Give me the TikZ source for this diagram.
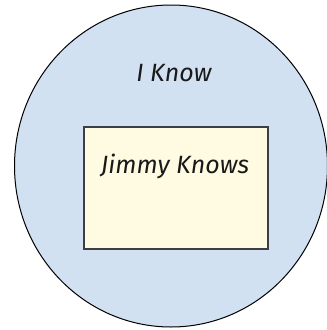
\documentclass[tikz,border=0pt]{standalone}
\usepackage{fontspec}
\setmainfont{Fira Sans}
\usetikzlibrary{positioning,shapes.geometric}
\definecolor{circblue}{RGB}{210,225,242}
\definecolor{boxyellow}{RGB}{255,251,226}
\definecolor{boxedge}{RGB}{60,62,70}
\tikzset{
  knowcirc/.style = {ellipse, minimum width=313pt, minimum height=322pt, inner sep=0pt,
                     fill=circblue, draw=black, line width=1pt},
  jimbox/.style   = {rectangle, minimum width=184pt, minimum height=122pt, inner sep=0pt,
                     fill=boxyellow, draw=boxedge, line width=1.1pt},
  knowlbl/.style  = {font=\fontsize{25}{30}\selectfont\itshape, inner sep=0pt, text=black!90}
}
\begin{document}
\begin{tikzpicture}[x=1pt, y=1pt]
  \useasboundingbox (0,0) rectangle (327,-330);
  % ---- outer circle ----
  \node[knowcirc] (circ) at (171,-166) {};
  \node[knowlbl]  (iknow) at (174,-73) {I Know};
  % ---- inner box ----
  \node[jimbox]   (jbox) at (176,-188) {};
  \node[knowlbl]  (jknows) at (175,-166) {Jimmy Knows};
\end{tikzpicture}
\end{document}
